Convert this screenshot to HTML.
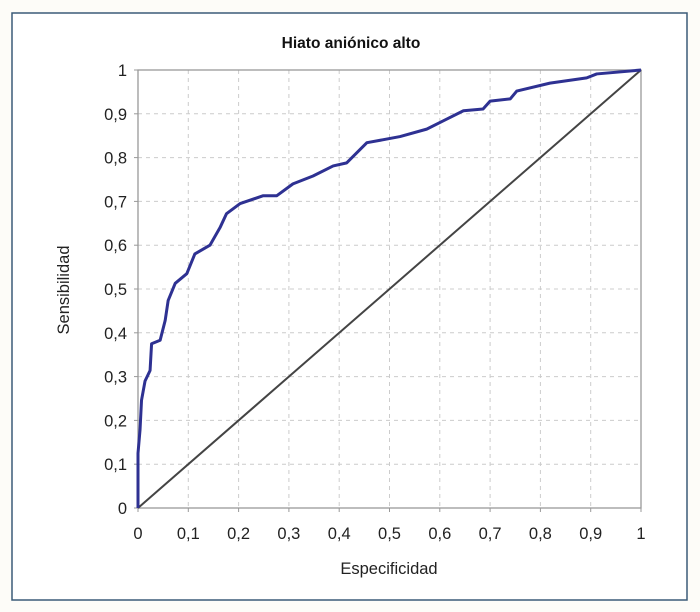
<!DOCTYPE html>
<html><head><meta charset="utf-8"><style>
html,body{margin:0;padding:0;background:#fdfcf8;}
svg{display:block;font-family:"Liberation Sans",Arial,sans-serif;}
</style></head><body>
<svg width="700" height="612" viewBox="0 0 700 612">
<rect x="12" y="13" width="675" height="587" fill="#fff" stroke="#3b5b78" stroke-width="1.5"/>
<text x="351" y="48" text-anchor="middle" font-size="15.5" font-weight="bold" fill="#111">Hiato aniónico alto</text>
<g id="grid"></g>
<g id="axes"></g>
<line id="diag" stroke="#444" stroke-width="2"/>
<polyline id="roc" fill="none" stroke="#2e3192" stroke-width="3" stroke-linejoin="round"/>
<text x="389" y="574" text-anchor="middle" font-size="16.5" fill="#222">Especificidad</text>
<text transform="translate(69,290) rotate(-90)" text-anchor="middle" font-size="16.5" fill="#222">Sensibilidad</text>
</svg>
<script>
const tickValues=[0,0.1,0.2,0.3,0.4,0.5,0.6,0.7,0.8,0.9,1];
const tickLabels=["0","0,1","0,2","0,3","0,4","0,5","0,6","0,7","0,8","0,9","1"];
const rocX=[0,0,0.004,0.007,0.014,0.024,0.027,0.044,0.054,0.06,0.074,0.097,0.113,0.143,0.163,0.176,0.203,0.249,0.276,0.308,0.348,0.388,0.415,0.455,0.521,0.574,0.607,0.647,0.686,0.70,0.74,0.753,0.819,0.892,0.912,1];
const rocY=[0,0.125,0.178,0.246,0.29,0.314,0.375,0.383,0.428,0.474,0.513,0.535,0.58,0.60,0.64,0.672,0.695,0.713,0.713,0.74,0.758,0.781,0.788,0.834,0.848,0.865,0.884,0.907,0.911,0.929,0.934,0.952,0.97,0.982,0.991,1];
const X0=138,X1=641,Y0=508,Y1=70;
const sx=v=>X0+v*(X1-X0), sy=v=>Y0-v*(Y0-Y1);
const NS="http://www.w3.org/2000/svg";
const grid=document.getElementById('grid'), axes=document.getElementById('axes');
function mk(tag,attrs,parent){const e=document.createElementNS(NS,tag);for(const k in attrs)e.setAttribute(k,attrs[k]);parent.appendChild(e);return e;}
tickValues.forEach((v,i)=>{
  if(v>0&&v<1){
    const gv=mk('line',{x1:sx(v),x2:sx(v),y1:Y1,y2:Y0,stroke:'#ccc','stroke-dasharray':'4,4'},grid);
    
    
    const gh=mk('line',{x1:X0,x2:X1,y1:sy(v),y2:sy(v),stroke:'#ccc','stroke-dasharray':'4,4'},grid);
    
    
  }
  const tx=mk('text',{x:sx(v),y:539,'text-anchor':'middle','font-size':16.5,fill:'#222'},axes);
  tx.textContent=tickLabels[i];
  
  
  const ty=mk('text',{x:127,y:sy(v)+6,'text-anchor':'end','font-size':16.5,fill:'#222'},axes);
  ty.textContent=tickLabels[i];
  
  
  const t1=mk('line',{x1:sx(v),x2:sx(v),y1:Y0,y2:Y0+4,stroke:'#999'},axes);
  
  
  const t2=mk('line',{x1:X0-4,x2:X0,y1:sy(v),y2:sy(v),stroke:'#999'},axes);
  
  
});
const box=mk('rect',{x:X0,y:Y1,width:X1-X0,height:Y0-Y1,fill:'none',stroke:'#999','stroke-width':1.3},axes);


const d=document.getElementById('diag');
d.setAttribute('x1',sx(0));d.setAttribute('y1',sy(0));d.setAttribute('x2',sx(1));d.setAttribute('y2',sy(1));
document.getElementById('roc').setAttribute('points',rocX.map((x,i)=>sx(x)+','+sy(rocY[i])).join(' '));
</script>
</body></html>
